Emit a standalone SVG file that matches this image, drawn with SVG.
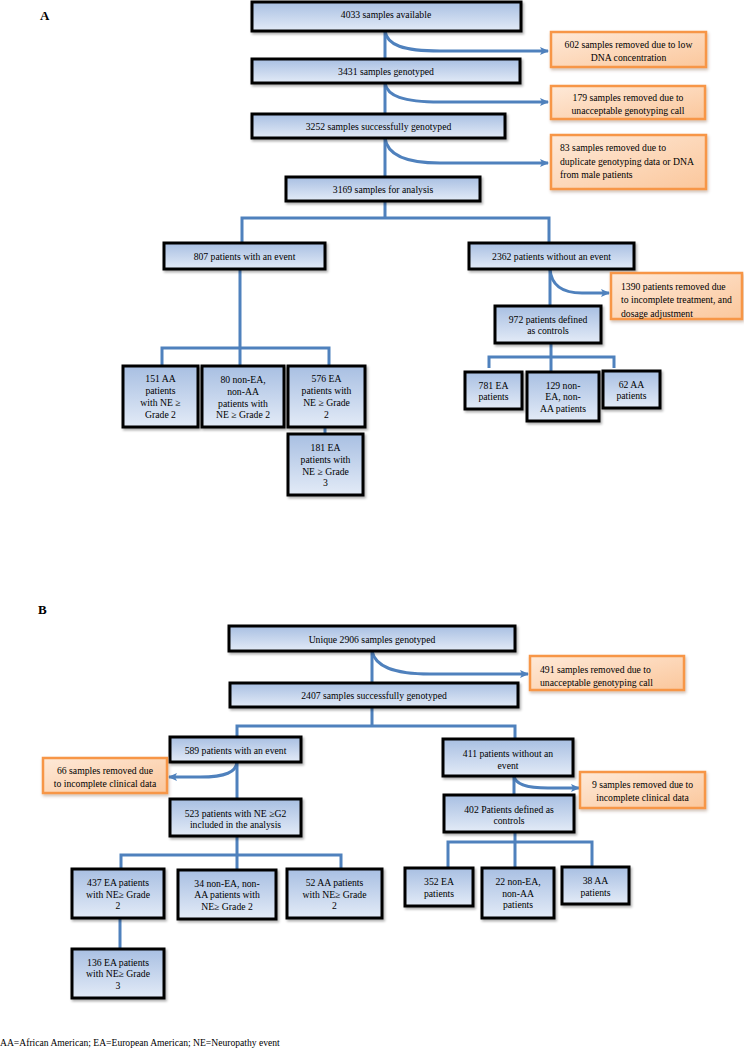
<svg xmlns="http://www.w3.org/2000/svg" width="744" height="1048" viewBox="0 0 744 1048">
<defs>
<linearGradient id="gb" x1="0" y1="0" x2="0" y2="1">
<stop offset="0" stop-color="#a8bfe2"/>
<stop offset="1" stop-color="#e3ebf7"/>
</linearGradient>
<linearGradient id="go" x1="0" y1="0" x2="1" y2="1">
<stop offset="0" stop-color="#fee9d8"/>
<stop offset="1" stop-color="#fbc79c"/>
</linearGradient>
<filter id="sb" x="-10%" y="-20%" width="130%" height="150%">
<feDropShadow dx="1.5" dy="2" stdDeviation="1.2" flood-color="#000" flood-opacity="0.3"/>
</filter>
<filter id="so" x="-10%" y="-20%" width="130%" height="150%">
<feDropShadow dx="1" dy="2" stdDeviation="1.5" flood-color="#7a5030" flood-opacity="0.35"/>
</filter>
<marker id="ar" markerUnits="userSpaceOnUse" markerWidth="10" markerHeight="10" refX="8" refY="5" orient="auto">
<path d="M0,1 L9,5 L0,9 L2,5 Z" fill="#4f81bd"/>
</marker>
</defs>
<style>
.b{fill:url(#gb);stroke:#000;stroke-width:3;filter:url(#sb)}
.o{fill:url(#go);stroke:#f79646;stroke-width:2.5;filter:url(#so)}
.c{fill:none;stroke:#4f81bd;stroke-width:3}
.a{fill:none;stroke:#4f81bd;stroke-width:3;marker-end:url(#ar)}
text{font-family:"Liberation Serif","Times New Roman",serif;font-size:9.7px;fill:#000}
.m{text-anchor:middle}
.h{font-size:13px;font-weight:bold}
.f{font-size:9.6px}
</style>
<rect width="744" height="1048" fill="#fff"/>
<text class="h" x="40" y="20">A</text>
<text class="h" x="38" y="614">B</text>

<g id="connectors">
<!-- A -->
<path class="c" d="M385,31 V177"/>
<path class="a" d="M385,31 C387,45 403,51 440,51 L548,51"/>
<path class="a" d="M385,83 C387,96 403,102 440,102 L548,102"/>
<path class="a" d="M385,138 C387,154 403,163 440,163 L548,163"/>
<path class="c" d="M385,201 V218 M242,218 H549 M242,216.5 V243 M549,216.5 V243"/>
<path class="c" d="M240,269 V366 M162,348 H329 M162,346.5 V366 M329,346.5 V366"/>
<path class="c" d="M325,427 V434"/>
<path class="c" d="M550,269 V306"/>
<path class="a" d="M550,269 C551,283 560,293 582,293 L609,293"/>
<path class="c" d="M551,343 V372 M489,357 H614 M489,355.5 V368 M614,355.5 V368"/>
<!-- B -->
<path class="c" d="M372,651 V683"/>
<path class="a" d="M372,651 C375,666 392,674 430,674 L528,674"/>
<path class="c" d="M372,707 V726 M237,726 H515 M237,724.5 V737 M515,724.5 V739"/>
<path class="c" d="M237,762 V799"/>
<path class="a" d="M237,762 C236,772 226,777 200,777 L169,777"/>
<path class="c" d="M514,776 V795"/>
<path class="a" d="M514,776 C515,784 525,788 548,788 L579,788"/>
<path class="c" d="M237,836 V869 M121,855 H341 M121,853.5 V869 M341,853.5 V869"/>
<path class="c" d="M120,918 V949"/>
<path class="c" d="M515,832 V868 M448,842 H592 M448,840.5 V868 M592,840.5 V867"/>
</g>

<g id="n1"><rect class="b" x="252" y="2" width="269" height="29"/><text class="m" x="386" y="17.5">4033 samples available</text></g>
<g id="o1"><rect class="o" x="551" y="32" width="155" height="35"/><text class="m" x="628.5" y="47.5">602 samples removed due to low</text><text class="m" x="628.5" y="60.5">DNA concentration</text></g>
<g id="n2"><rect class="b" x="252" y="59" width="268" height="24"/><text class="m" x="386" y="74.5">3431 samples genotyped</text></g>
<g id="o2"><rect class="o" x="551" y="86" width="154" height="33"/><text class="m" x="628" y="101">179 samples removed due to</text><text class="m" x="628" y="114">unacceptable genotyping call</text></g>
<g id="n3"><rect class="b" x="252" y="114" width="253" height="24"/><text class="m" x="378.5" y="130">3252 samples successfully genotyped</text></g>
<g id="o3"><rect class="o" x="551" y="135" width="155" height="54"/><text x="560" y="151">83 samples removed due to</text><text x="560" y="165">duplicate genotyping data or DNA</text><text x="560" y="177.5">from male  patients</text></g>
<g id="n4"><rect class="b" x="286" y="177" width="194" height="24"/><text class="m" x="383" y="192.5">3169 samples for analysis</text></g>
<g id="n5"><rect class="b" x="164" y="243" width="161" height="26"/><text class="m" x="244.5" y="260">807 patients with an event</text></g>
<g id="n6"><rect class="b" x="469" y="243" width="165" height="26"/><text class="m" x="551.5" y="260">2362 patients without an event</text></g>
<g id="n7"><rect class="b" x="123" y="366" width="75" height="61"/><text class="m" x="160.5" y="381.5">151 AA</text><text class="m" x="160.5" y="394">patients</text><text class="m" x="160.5" y="406">with NE ≥</text><text class="m" x="160.5" y="417.5">Grade 2</text></g>
<g id="n8"><rect class="b" x="202" y="366" width="82" height="61"/><text class="m" x="243" y="383">80 non-EA,</text><text class="m" x="243" y="395">non-AA</text><text class="m" x="243" y="406.5">patients with</text><text class="m" x="243" y="417.5">NE ≥ Grade 2</text></g>
<g id="n9"><rect class="b" x="288" y="366" width="77" height="61"/><text class="m" x="326.5" y="381.5">576  EA</text><text class="m" x="326.5" y="394">patients with</text><text class="m" x="326.5" y="406">NE ≥ Grade</text><text class="m" x="326.5" y="417.5">2</text></g>
<g id="n10"><rect class="b" x="288" y="434" width="75" height="61"/><text class="m" x="325.5" y="450.5">181  EA</text><text class="m" x="325.5" y="463">patients with</text><text class="m" x="325.5" y="474.5">NE ≥ Grade</text><text class="m" x="325.5" y="485.5">3</text></g>
<g id="o4"><rect class="o" x="611" y="273" width="131" height="46"/><text x="621" y="290">1390 patients removed due</text><text x="621" y="303">to incomplete treatment, and</text><text x="621" y="316.5">dosage adjustment</text></g>
<g id="n11"><rect class="b" x="495" y="306" width="106" height="37"/><text class="m" x="548" y="322.5">972 patients defined</text><text class="m" x="548" y="334">as controls</text></g>
<g id="n12"><rect class="b" x="465" y="372" width="57" height="37"/><text class="m" x="493.5" y="388.5">781 EA</text><text class="m" x="493.5" y="400">patients</text></g>
<g id="n13"><rect class="b" x="527" y="372" width="72" height="49"/><text class="m" x="563" y="388.5">129 non-</text><text class="m" x="563" y="400">EA, non-</text><text class="m" x="563" y="411.5">AA patients</text></g>
<g id="n14"><rect class="b" x="603" y="371" width="57" height="37"/><text class="m" x="631.5" y="387.5">62 AA</text><text class="m" x="631.5" y="399">patients</text></g>

<g id="m1"><rect class="b" x="229" y="626" width="286" height="25"/><text class="m" x="372" y="642.5">Unique 2906 samples genotyped</text></g>
<g id="p1"><rect class="o" x="530" y="656" width="154" height="34"/><text x="540" y="672.5">491 samples  removed due to</text><text x="540" y="685.5">unacceptable genotyping call</text></g>
<g id="m2"><rect class="b" x="230" y="683" width="288" height="24"/><text class="m" x="374" y="698.5">2407 samples  successfully genotyped</text></g>
<g id="m3"><rect class="b" x="170" y="737" width="131" height="25"/><text class="m" x="235.5" y="754">589 patients with an event</text></g>
<g id="m4"><rect class="b" x="443" y="739" width="130" height="37"/><text class="m" x="508" y="756.5">411 patients without an</text><text class="m" x="508" y="768.5">event</text></g>
<g id="p2"><rect class="o" x="43" y="758" width="124" height="35"/><text class="m" x="105" y="773.5">66 samples removed due</text><text class="m" x="105" y="786.5">to incomplete clinical data</text></g>
<g id="p3"><rect class="o" x="580" y="772" width="125" height="36"/><text class="m" x="642.5" y="787.5">9 samples removed due to</text><text class="m" x="642.5" y="800.5">incomplete clinical data</text></g>
<g id="m5"><rect class="b" x="444" y="795" width="130" height="37"/><text class="m" x="509" y="812.5">402 Patients defined as</text><text class="m" x="509" y="823.5">controls</text></g>
<g id="m6"><rect class="b" x="170" y="799" width="131" height="37"/><text class="m" x="235.5" y="816.5">523 patients with NE ≥G2</text><text class="m" x="235.5" y="827.5">included in  the analysis</text></g>
<g id="m7"><rect class="b" x="72" y="869" width="92" height="49"/><text class="m" x="118" y="886">437 EA patients</text><text class="m" x="118" y="897.5">with NE≥ Grade</text><text class="m" x="118" y="909">2</text></g>
<g id="m8"><rect class="b" x="178" y="870" width="98" height="49"/><text class="m" x="227" y="886.5">34 non-EA, non-</text><text class="m" x="227" y="898">AA patients with</text><text class="m" x="227" y="910">NE≥ Grade  2</text></g>
<g id="m9"><rect class="b" x="287" y="869" width="95" height="49"/><text class="m" x="334.5" y="886">52 AA patients</text><text class="m" x="334.5" y="897.5">with NE≥ Grade</text><text class="m" x="334.5" y="909">2</text></g>
<g id="m10"><rect class="b" x="72" y="949" width="92" height="49"/><text class="m" x="118" y="965.5">136 EA patients</text><text class="m" x="118" y="977">with NE≥ Grade</text><text class="m" x="118" y="989">3</text></g>
<g id="m11"><rect class="b" x="405" y="868" width="68" height="38"/><text class="m" x="439" y="885">352 EA</text><text class="m" x="439" y="896.5">patients</text></g>
<g id="m12"><rect class="b" x="482" y="868" width="72" height="50"/><text class="m" x="518" y="885">22 non-EA,</text><text class="m" x="518" y="896.5">non-AA</text><text class="m" x="518" y="908">patients</text></g>
<g id="m13"><rect class="b" x="562" y="867" width="67" height="37"/><text class="m" x="595.5" y="884">38 AA</text><text class="m" x="595.5" y="895.5">patients</text></g>

<text class="f" x="0" y="1046">AA=African American; EA=European American; NE=Neuropathy event</text>
</svg>
